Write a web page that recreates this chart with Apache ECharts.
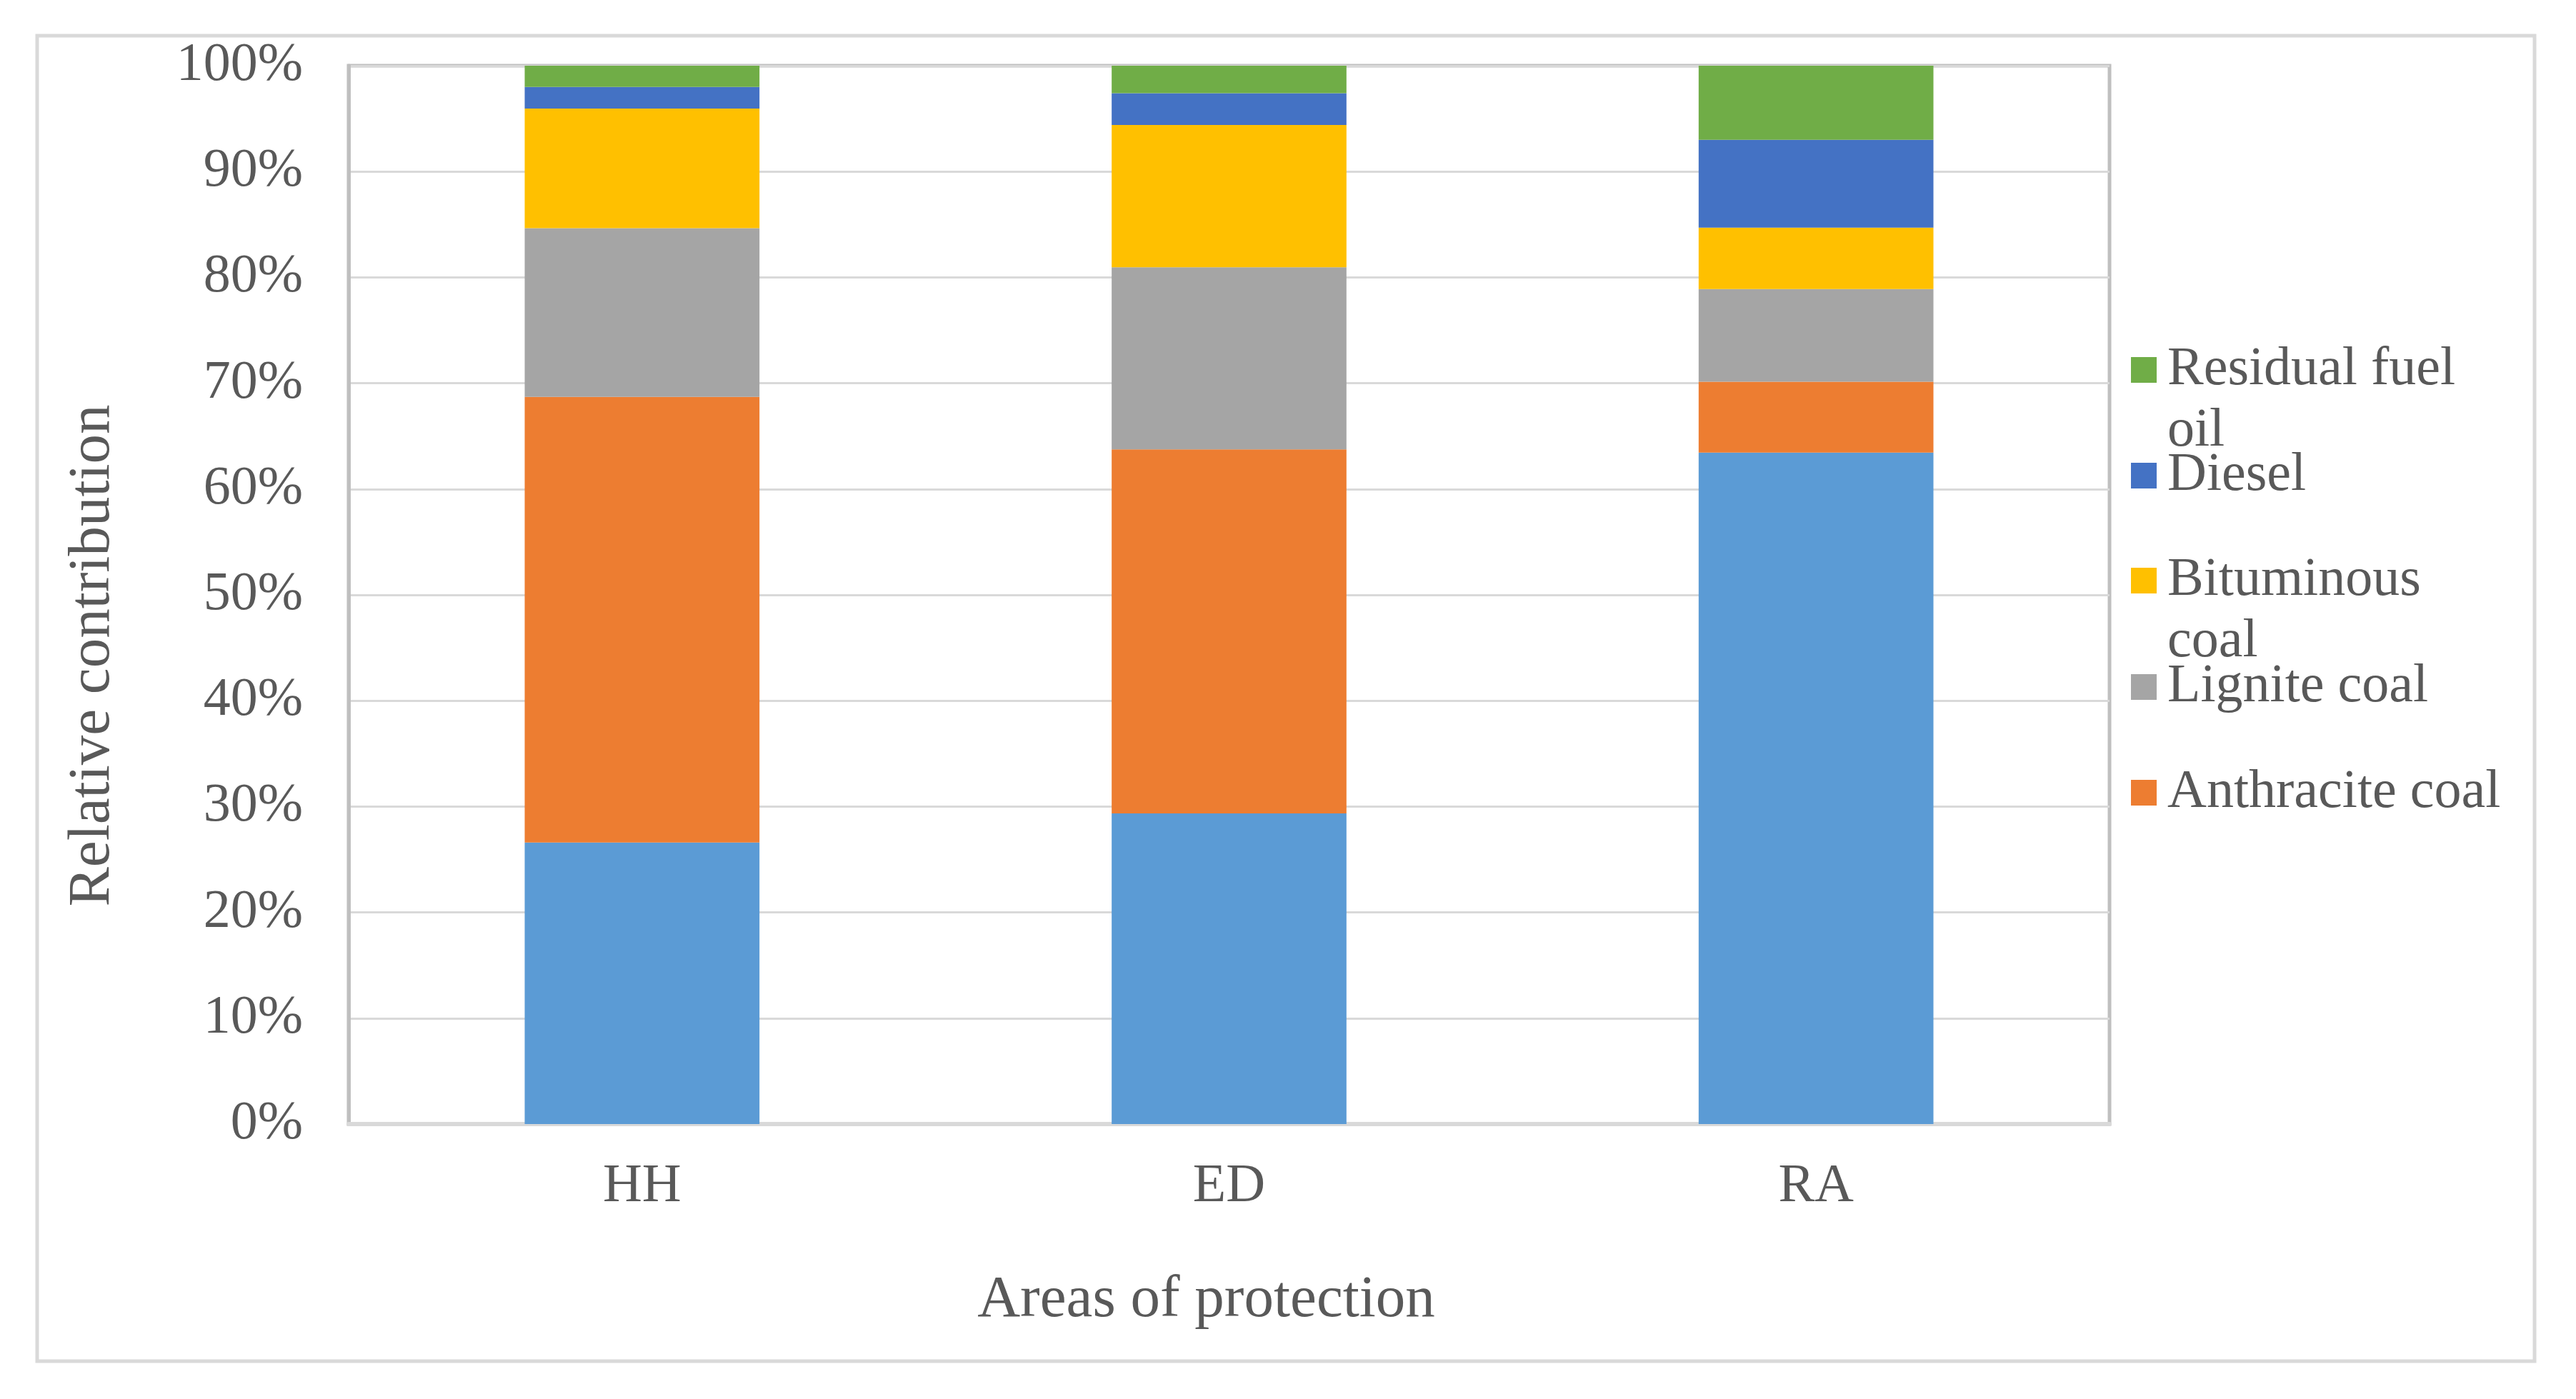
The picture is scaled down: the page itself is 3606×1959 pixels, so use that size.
<!DOCTYPE html>
<html>
<head>
<meta charset="utf-8">
<script src="https://cdn.jsdelivr.net/npm/echarts@6/dist/echarts.min.js"></script>
<style>
html,body{margin:0;padding:0;background:#fff;}
#chart{width:3606px;height:1959px;}
</style>
</head>
<body>
<div id="chart"></div>
<script>
// ---- data (percent of total) ----
const categories = ['HH', 'ED', 'RA'];
const otherFuel       = [26.6, 29.35, 63.45];
const anthraciteCoal  = [42.1, 34.4, 6.7];
const ligniteCoal     = [15.95, 17.2, 8.75];
const bituminousCoal  = [11.3, 13.45, 5.8];
const diesel          = [2.05, 3.0, 8.3];
const residualFuelOil = [2.0, 2.6, 7.0];
const yTicks = [0, 10, 20, 30, 40, 50, 60, 70, 80, 90, 100];

const FONT = '"Liberation Serif", "Times New Roman", serif';
const TXT = '#595959';

const seriesDefs = [
  {name: 'Other', data: otherFuel, color: '#5b9bd5'},
  {name: 'Anthracite coal', data: anthraciteCoal, color: '#ed7d31'},
  {name: 'Lignite coal', data: ligniteCoal, color: '#a5a5a5'},
  {name: 'Bituminous coal', data: bituminousCoal, color: '#ffc000'},
  {name: 'Diesel', data: diesel, color: '#4472c4'},
  {name: 'Residual fuel oil', data: residualFuelOil, color: '#70ad47'}
];

// legend entries (top to bottom); wrapped entries get their line break
const legendItems = [
  {name: 'Residual fuel oil', center: 518, label: 'Residual fuel\noil'},
  {name: 'Diesel', center: 666, label: null},
  {name: 'Bituminous coal', center: 813, label: 'Bituminous\ncoal'},
  {name: 'Lignite coal', center: 962, label: null},
  {name: 'Anthracite coal', center: 1110, label: null}
];
const LH = 86;
const legends = legendItems.map(it => ({
  show: true,
  orient: 'vertical',
  left: 2983,
  top: it.center - (it.label ? LH * 1.5 : LH / 2),
  padding: 0,
  itemWidth: 36,
  itemHeight: 36,
  icon: 'rect',
  selectedMode: false,
  data: [it.name],
  formatter: name => (it.label ? '\n' + it.label : name),
  textStyle: {
    fontFamily: FONT, fontSize: 76, color: TXT, lineHeight: LH,
    padding: [0, 0, 0, 10]
  }
}));

const chart = echarts.init(document.getElementById('chart'), null, {renderer: 'canvas'});
chart.setOption({
  backgroundColor: '#ffffff',
  animation: false,
  graphic: [{
    type: 'rect',
    shape: {x: 52, y: 50, width: 3496, height: 1856},
    style: {fill: 'none', stroke: '#d9d9d9', lineWidth: 5},
    silent: true, z: -10
  }],
  legend: legends,
  grid: {
    left: 488, right: 653, top: 92, bottom: 385,
    show: true, borderColor: '#bfbfbf', borderWidth: 5, backgroundColor: 'transparent'
  },
  xAxis: {
    type: 'category',
    data: categories,
    name: 'Areas of protection',
    nameLocation: 'middle',
    nameGap: 206,
    nameTextStyle: {fontFamily: FONT, fontSize: 83, color: TXT, padding: [0, 64, 0, 0]},
    axisLine: {show: true, lineStyle: {color: '#d9d9d9', width: 6}},
    axisTick: {show: false},
    axisLabel: {fontFamily: FONT, fontSize: 76, color: TXT, margin: 50},
    splitLine: {show: false}
  },
  yAxis: {
    type: 'value',
    min: 0, max: 100, interval: 10,
    name: 'Relative contribution',
    nameLocation: 'middle',
    nameGap: 316,
    nameRotate: 90,
    nameTextStyle: {fontFamily: FONT, fontSize: 83, color: TXT, padding: [0, 170, 0, 0]},
    axisLine: {show: true, lineStyle: {color: '#bfbfbf', width: 5}},
    axisTick: {show: false},
    axisLabel: {
      fontFamily: FONT, fontSize: 76, color: TXT, margin: 64,
      formatter: v => (yTicks.indexOf(v) >= 0 ? v + '%' : '')
    },
    splitLine: {show: true, lineStyle: {color: '#d9d9d9', width: 3}}
  },
  series: seriesDefs.map(s => ({
    name: s.name,
    type: 'bar',
    stack: 'total',
    barWidth: '40%',
    data: s.data,
    itemStyle: {color: s.color},
    emphasis: {disabled: true}
  }))
});
</script>
</body>
</html>
